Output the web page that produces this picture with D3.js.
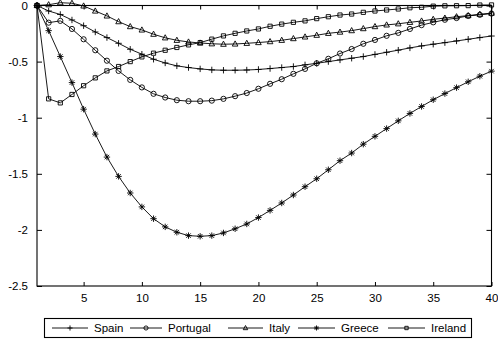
<!DOCTYPE html>
<html><head><meta charset="utf-8">
<script src="https://cdn.jsdelivr.net/npm/d3@7"></script>
<style>
html,body{margin:0;padding:0;background:#fff;}
svg text{font-family:"Liberation Sans",Arial,sans-serif;font-size:11.5px;fill:#000;}
</style></head>
<body>
<svg id="chart" width="498" height="348"></svg>
<script>
const periods = [1,2,3,4,5,6,7,8,9,10,11,12,13,14,15,16,17,18,19,20,21,22,23,24,25,26,27,28,29,30,31,32,33,34,35,36,37,38,39,40];
const countries = ["Spain","Portugal","Italy","Greece","Ireland"];
const spain = [0,-0.049,-0.08,-0.129,-0.18,-0.236,-0.286,-0.337,-0.39,-0.434,-0.479,-0.512,-0.538,-0.553,-0.565,-0.574,-0.577,-0.577,-0.575,-0.57,-0.562,-0.553,-0.544,-0.529,-0.515,-0.5,-0.485,-0.47,-0.455,-0.436,-0.417,-0.398,-0.378,-0.36,-0.345,-0.331,-0.316,-0.301,-0.286,-0.272];
const portugal = [0,-0.153,-0.137,-0.209,-0.301,-0.399,-0.492,-0.583,-0.663,-0.73,-0.787,-0.82,-0.844,-0.853,-0.853,-0.848,-0.832,-0.808,-0.78,-0.742,-0.698,-0.657,-0.609,-0.565,-0.515,-0.475,-0.428,-0.388,-0.341,-0.307,-0.27,-0.244,-0.209,-0.175,-0.15,-0.127,-0.112,-0.093,-0.083,-0.072];
const italy = [0,0.007,0.025,0.02,-0.004,-0.049,-0.093,-0.144,-0.188,-0.218,-0.256,-0.288,-0.31,-0.325,-0.334,-0.341,-0.345,-0.343,-0.337,-0.33,-0.322,-0.31,-0.295,-0.28,-0.265,-0.248,-0.237,-0.224,-0.206,-0.188,-0.173,-0.163,-0.15,-0.138,-0.123,-0.112,-0.1,-0.09,-0.078,-0.068];
const greece = [0,-0.224,-0.455,-0.687,-0.924,-1.146,-1.351,-1.523,-1.671,-1.795,-1.9,-1.973,-2.021,-2.051,-2.057,-2.051,-2.027,-1.99,-1.947,-1.89,-1.826,-1.76,-1.689,-1.615,-1.544,-1.464,-1.383,-1.315,-1.236,-1.166,-1.097,-1.028,-0.962,-0.9,-0.84,-0.785,-0.732,-0.68,-0.63,-0.585];
const ireland = [0,-0.832,-0.868,-0.793,-0.715,-0.645,-0.583,-0.544,-0.5,-0.458,-0.425,-0.399,-0.374,-0.351,-0.331,-0.3,-0.271,-0.248,-0.227,-0.209,-0.185,-0.166,-0.15,-0.137,-0.117,-0.1,-0.085,-0.076,-0.061,-0.049,-0.04,-0.031,-0.02,-0.016,-0.006,-0.003,-0.002,-0.001,0.004,0.005];
const xTicks = [5,10,15,20,25,30,35,40];
const yTicks = [0,-0.5,-1,-1.5,-2,-2.5];
const markerTypes = ["plus","circle","triangle","star","square"];

const seriesValues = [spain, portugal, italy, greece, ireland];

const svg = d3.select("#chart");
const L = 37, R = 491.5, T = 5.5, B = 286;
const x = d3.scaleLinear().domain([1,40]).range([L,R]);
const y = d3.scaleLinear().domain([-2.5,0]).range([B,T]);

const gx = svg.append("g").attr("transform",`translate(0,${B})`)
  .call(d3.axisBottom(x).tickValues(xTicks).tickSize(-4).tickPadding(8).tickFormat(d3.format("d")));
const gxTop = svg.append("g").attr("transform",`translate(0,${T})`)
  .call(d3.axisTop(x).tickValues(xTicks).tickSize(-4).tickFormat(""));
const gy = svg.append("g").attr("transform",`translate(${L},0)`)
  .call(d3.axisLeft(y).tickValues(yTicks).tickSize(-5).tickPadding(9).tickFormat(d => d === 0 ? "0" : String(d)));
const gyR = svg.append("g").attr("transform",`translate(${R},0)`)
  .call(d3.axisRight(y).tickValues(yTicks).tickSize(-5).tickFormat(""));
[gx,gxTop,gy,gyR].forEach(g => {
  g.select(".domain").remove();
  g.selectAll(".tick line").attr("stroke","#000").attr("stroke-width",1);
  g.selectAll("text").attr("font-family","Liberation Sans, Arial, sans-serif").attr("font-size",11.5);
});
gx.selectAll("text").attr("dy","0.71em");
svg.append("rect").attr("x",L).attr("y",T).attr("width",R-L).attr("height",B-T)
  .attr("fill","none").attr("stroke","#000").attr("stroke-width",1.1);

function markerPath(type, s) {
  switch(type){
    case "plus": return `M${-s},0H${s}M0,${-s}V${s}`;
    case "circle": return d3.symbol(d3.symbolCircle, Math.PI*s*s)();
    case "square": return `M${-s},${-s}H${s}V${s}H${-s}Z`;
    case "triangle": return `M0,${-s*1.1}L${s},${s*0.75}L${-s},${s*0.75}Z`;
    case "star": { const a=s*0.7; return `M${-s},0H${s}M0,${-s}V${s}M${-a},${-a}L${a},${a}M${-a},${a}L${a},${-a}`; }
  }
}
const markerSize = {plus:3.2, circle:2.6, square:2.1, triangle:2.8, star:3.2};

const line = d3.line().x((d,i)=>x(periods[i])).y(d=>y(d));
seriesValues.forEach((vals, k) => {
  const g = svg.append("g");
  g.append("path").attr("d", line(vals)).attr("fill","none").attr("stroke","#000").attr("stroke-width",0.9);
  const mt = markerTypes[k];
  g.selectAll("path.m").data(vals).enter().append("path").attr("class","m")
    .attr("transform",(d,i)=>`translate(${x(periods[i])},${y(d)})`)
    .attr("d", markerPath(mt, markerSize[mt]))
    .attr("fill","none").attr("stroke","#000").attr("stroke-width",0.9);
});

// legend
const lg = svg.append("g");
lg.append("rect").attr("x",44.5).attr("y",318.5).attr("width",427).attr("height",19)
  .attr("fill","#fff").attr("stroke","#000").attr("stroke-width",1.1);
const itemX = [52, 130, 228, 298, 388];
const textX = [94, 168, 269, 341, 431];
countries.forEach((c,k) => {
  const x0 = itemX[k], ly = 328;
  lg.append("line").attr("x1",x0).attr("x2",textX[k]-6).attr("y1",ly).attr("y2",ly).attr("stroke","#000").attr("stroke-width",0.9);
  const mt = markerTypes[k];
  lg.append("path").attr("transform",`translate(${(x0+textX[k]-6)/2},${ly})`).attr("d",markerPath(mt, markerSize[mt]*0.8))
    .attr("fill","none").attr("stroke","#000").attr("stroke-width",0.9);
  lg.append("text").attr("x",textX[k]).attr("y",ly).attr("dy","0.36em").text(c);
});
</script>
</body></html>
